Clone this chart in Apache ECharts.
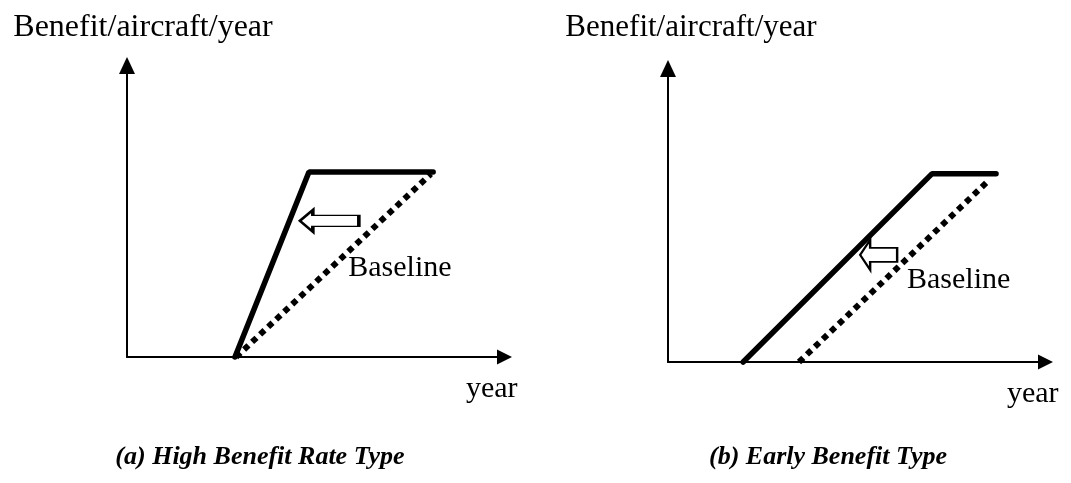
<!DOCTYPE html>
<html>
<head>
<meta charset="utf-8">
<script src="https://cdn.jsdelivr.net/npm/echarts@6/dist/echarts.min.js"></script>
<style>
  html, body { margin: 0; padding: 0; background: #fff; }
  #main { width: 1071px; height: 483px; }
</style>
</head>
<body>
<div id="main"></div>
<script>
// both panels use a 0..100 scale on each axis
// (a) high benefit rate type
var fastYearsA = [28.6, 48.2, 81.1]
var fastBenefitA = [0, 63.5, 63.5]
var baseYearsA = [28.9, 80.5]
var baseBenefitA = [0, 62.8]
// (b) early benefit type
var fastYearsB = [19.9, 69.9, 86.9]
var fastBenefitB = [0, 64.1, 64.1]
var baseYearsB = [34.7, 84.5]
var baseBenefitB = [0, 61.3]

var captions = ['(a) High Benefit Rate Type', '(b) Early Benefit Type']
var yName = 'Benefit/aircraft/year'
var xName = 'year'
var baseName = 'Baseline'

var serif = '"Liberation Serif", "Times New Roman", serif'

function pairs(xs, ys) {
  return xs.map(function (x, i) { return [x, ys[i]] })
}

function xAxisOf(idx) {
  return {
    type: 'value',
    gridIndex: idx,
    min: 0,
    max: 100,
    name: xName,
    nameLocation: 'end',
    nameGap: 13,
    nameTextStyle: {
      fontFamily: serif, fontSize: 30, color: '#000',
      align: 'right', verticalAlign: 'top', padding: [17, 0, 0, 0]
    },
    axisLine: {
      onZero: false,
      symbol: ['none', 'triangle'],
      symbolSize: [15, 15],
      lineStyle: { color: '#000', width: 2 }
    },
    axisTick: { show: false },
    axisLabel: { show: false },
    splitLine: { show: false }
  }
}

function yAxisOf(idx, fontSize, shift, gap) {
  return {
    type: 'value',
    gridIndex: idx,
    min: 0,
    max: 100,
    name: yName,
    nameLocation: 'end',
    nameGap: gap,
    nameTextStyle: {
      fontFamily: serif, fontSize: fontSize, color: '#000',
      align: 'center', padding: [0, 0, 0, shift * 2]
    },
    axisLine: {
      onZero: false,
      symbol: ['none', 'triangle'],
      symbolSize: [16, 17],
      lineStyle: { color: '#000', width: 2 }
    },
    axisTick: { show: false },
    axisLabel: { show: false },
    splitLine: { show: false }
  }
}

var arrowPathA = 'path://M0,11 L13,0 L13,5.5 L59,5.5 L59,16.5 L13,16.5 L13,22 Z'
var arrowPathB = 'path://M0,15 L10,0 L10,8 L37,8 L37,22 L10,22 L10,30 Z'

function solidSeries(idx, xs, ys) {
  return {
    type: 'line',
    xAxisIndex: idx,
    yAxisIndex: idx,
    data: pairs(xs, ys),
    showSymbol: false,
    clip: false,
    z: 4,
    lineStyle: { color: '#000', width: 5.5, cap: 'round' }
  }
}

function baseSeries(idx, xs, ys, arrowPath, arrowAt, arrowSize, labelAt) {
  return {
    type: 'line',
    xAxisIndex: idx,
    yAxisIndex: idx,
    data: pairs(xs, ys),
    showSymbol: false,
    clip: false,
    z: 3,
    lineStyle: { color: '#000', width: 6, type: [6, 5], cap: 'butt' },
    markPoint: {
      z: 2,
      silent: true,
      data: [
        {
          coord: arrowAt,
          symbol: arrowPath,
          symbolSize: arrowSize,
          itemStyle: { color: '#fff', borderColor: '#000', borderWidth: 2.2 },
          label: { show: false }
        },
        {
          coord: labelAt,
          symbol: 'rect',
          symbolSize: 1,
          itemStyle: { color: 'rgba(0,0,0,0)' },
          label: {
            show: true, position: 'inside', formatter: baseName,
            fontFamily: serif, fontSize: 30, color: '#000'
          }
        }
      ]
    }
  }
}

var chart = echarts.init(document.getElementById('main'))

var option = {
  animation: false,
  backgroundColor: '#fff',
  title: [
    {
      text: captions[0], left: 260, top: 444, textAlign: 'center', padding: 0,
      textStyle: { fontFamily: serif, fontSize: 26, fontWeight: 'bold', fontStyle: 'italic', color: '#000' }
    },
    {
      text: captions[1], left: 828, top: 444, textAlign: 'center', padding: 0,
      textStyle: { fontFamily: serif, fontSize: 26, fontWeight: 'bold', fontStyle: 'italic', color: '#000' }
    }
  ],
  grid: [
    { left: 127, top: 65.5, width: 377.5, height: 291.5 },
    { left: 668, top: 68.5, width: 377.5, height: 293.5 }
  ],
  xAxis: [xAxisOf(0), xAxisOf(1)],
  yAxis: [yAxisOf(0, 32, 16, 22), yAxisOf(1, 31, 23, 25)],
  series: [
    solidSeries(0, fastYearsA, fastBenefitA),
    baseSeries(0, baseYearsA, baseBenefitA, arrowPathA, [53.6, 46.7], [59, 22], [72.3, 30.5]),
    solidSeries(1, fastYearsB, fastBenefitB),
    baseSeries(1, baseYearsB, baseBenefitB, arrowPathB, [55.8, 36.5], [37, 30], [77.0, 27.9])
  ]
}

chart.setOption(option)
</script>
</body>
</html>
